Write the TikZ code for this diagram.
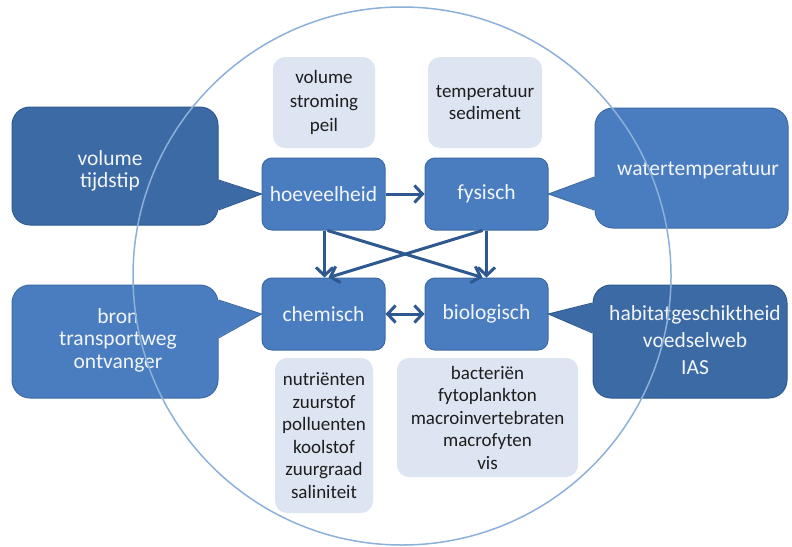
\documentclass[tikz,border=0pt]{standalone}
\usepackage{fontspec}
\setmainfont{Carlito}
\usetikzlibrary{arrows.meta,calc}
\definecolor{maincol}{HTML}{4A7DC0}
\definecolor{mainborder}{HTML}{3D6AA3}
\definecolor{darkcol}{HTML}{3B6AA5}
\definecolor{darkborder}{HTML}{2F5A90}
\definecolor{lightcol}{HTML}{DCE5F1}
\definecolor{arrcol}{HTML}{2D5890}
\definecolor{circcol}{HTML}{8DB0DA}
\definecolor{txtcol}{HTML}{F2F5FA}
\definecolor{darktxt}{HTML}{1E1E1E}
\tikzset{
  mainbox/.style={rectangle, rounded corners=10pt, fill=maincol, draw=mainborder, line width=1pt,
    minimum width=123pt, minimum height=72pt, text=txtcol, font=\fontsize{21.5}{24}\selectfont},
  lightbox/.style={rectangle, rounded corners=12pt, fill=lightcol, draw=none, text=darktxt, align=center},
  callout/.style={rectangle, rounded corners=18pt, line width=1pt, text=txtcol, align=center},
  barb/.tip={Straight Barb[length=8pt,width=17pt,line width=3pt]},
  arr/.style={draw=arrcol, line width=3pt, -barb},
  dblarr/.style={draw=arrcol, line width=3pt, barb-barb},
}
\begin{document}
\begin{tikzpicture}[x=1pt,y=-1pt]
\path[fill=white,use as bounding box] (0,0) rectangle (792,546);

% callouts
\node[callout, fill=darkcol, draw=darkborder, minimum width=206pt, minimum height=118pt] (c1) at (115,166) {};
\node[callout, fill=maincol, draw=mainborder, minimum width=206pt, minimum height=113pt] (c2) at (115,341.5) {};
\node[callout, fill=maincol, draw=mainborder, minimum width=193pt, minimum height=120pt] (c3) at (691.5,168) {};
\node[callout, fill=darkcol, draw=darkborder, minimum width=194pt, minimum height=113pt] (c4) at (690,341.5) {};

% main boxes
\node[mainbox] (hoe) at (323.5,194) {hoeveelheid};
\node[mainbox] (fys) at (486.5,194) {fysisch};
\node[mainbox] (che) at (323.5,314) {chemisch};
\node[mainbox] (bio) at (486.5,314) {biologisch};

% wedges
\fill[darkcol] ($(c1.east)+(-1.5,14)$) -- (hoe.west) -- ($(c1.east)+(-1.5,44)$) -- cycle;
\draw[darkborder, line width=1pt] ($(c1.east)+(0,14)$) -- (hoe.west) -- ($(c1.east)+(0,44)$);
\fill[maincol] ($(c2.east)+(-1.5,-41.5)$) -- (che.west) -- ($(c2.east)+(-1.5,-3.5)$) -- cycle;
\draw[mainborder, line width=1pt] ($(c2.east)+(0,-41.5)$) -- (che.west) -- ($(c2.east)+(0,-3.5)$);
\fill[maincol] ($(c3.west)+(1.5,9)$) -- (fys.east) -- ($(c3.west)+(1.5,42)$) -- cycle;
\draw[mainborder, line width=1pt] ($(c3.west)+(0,9)$) -- (fys.east) -- ($(c3.west)+(0,42)$);
\fill[darkcol] ($(c4.west)+(1.5,-38.5)$) -- (bio.east) -- ($(c4.west)+(1.5,-8.5)$) -- cycle;
\draw[darkborder, line width=1pt] ($(c4.west)+(0,-38.5)$) -- (bio.east) -- ($(c4.west)+(0,-8.5)$);

% callout texts
\node[text=txtcol, align=center, font=\fontsize{21.5}{22}\selectfont] (t1) at (110,171) {volume\\tijdstip};
\node[text=txtcol, align=center, font=\fontsize{21.5}{22.5}\selectfont] (t2) at (118,340) {bron\\transportweg\\ontvanger};
\node[text=txtcol, align=center, font=\fontsize{21.5}{24}\selectfont] (t3) at (698,170) {watertemperatuur};
\node[text=txtcol, align=center, font=\fontsize{21.5}{26.7}\selectfont] (t4) at (695,340) {habitatgeschiktheid\\voedselweb\\IAS};

% circle
\draw[circcol, line width=1.5pt] (402,276) circle[radius=269pt];

% light boxes
\node[lightbox, minimum width=102pt, minimum height=91pt, font=\fontsize{19}{24}\selectfont] (l1) at (324,102.5) {volume\\stroming\\peil};
\node[lightbox, minimum width=114pt, minimum height=91pt, font=\fontsize{19}{22}\selectfont] (l2) at (485,102.5) {temperatuur\\sediment};
\node[lightbox, minimum width=98pt, minimum height=155pt, font=\fontsize{19}{22.5}\selectfont] (l3) at (324,435.5) {nutriënten\\zuurstof\\polluenten\\koolstof\\zuurgraad\\saliniteit};
\node[lightbox, minimum width=181pt, minimum height=119pt, font=\fontsize{19}{22.5}\selectfont] (l4) at (487.5,417.5) {bacteriën\\fytoplankton\\macroinvertebraten\\macrofyten\\vis};

% arrows
\draw[arr] (hoe.east) -- (fys.west);
\draw[arr] ([xshift=1pt]hoe.south) -- ([xshift=1pt]che.north);
\draw[arr] (fys.south) -- (bio.north);
\draw[arr] ([xshift=4pt]hoe.south) -- ([xshift=-4pt]bio.north);
\draw[arr] ([xshift=-4pt]fys.south) -- ([xshift=5pt]che.north);
\draw[dblarr] (che.east) -- (bio.west);
\end{tikzpicture}
\end{document}
